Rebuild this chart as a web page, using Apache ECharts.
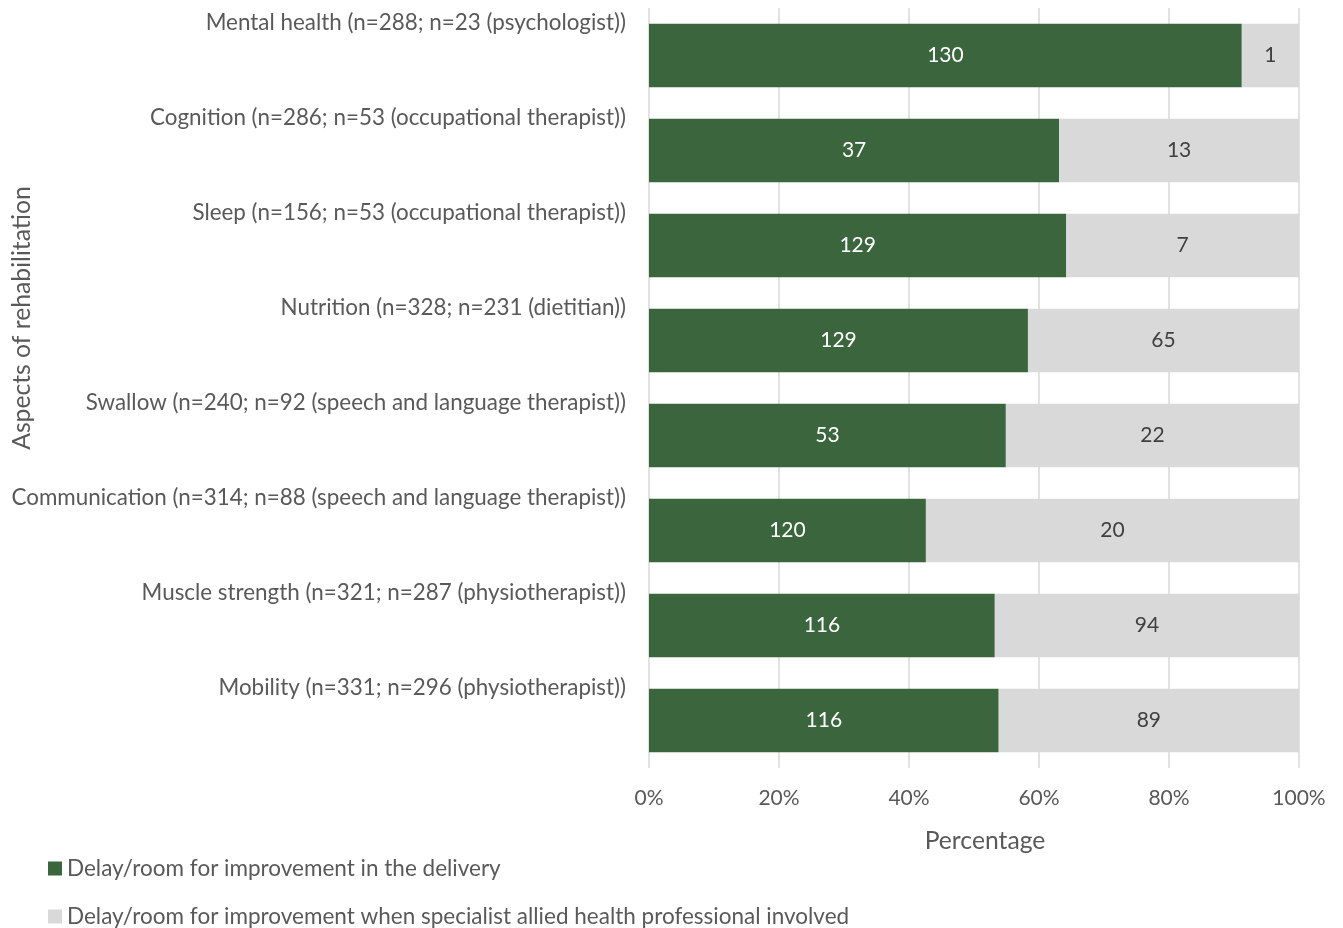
<!DOCTYPE html>
<html>
<head>
<meta charset="utf-8">
<script src="https://cdn.jsdelivr.net/npm/echarts@6/dist/echarts.min.js"></script>
<style>
html,body{margin:0;padding:0;background:#fff;}
#chart{width:1343px;height:928px;}
</style>
</head>
<body>
<div id="chart"></div>
<script>
const categories = [
  'Mental health (n=288; n=23 (psychologist))',
  'Cognition (n=286; n=53 (occupational therapist))',
  'Sleep (n=156; n=53 (occupational therapist))',
  'Nutrition (n=328; n=231 (dietitian))',
  'Swallow (n=240; n=92 (speech and language therapist))',
  'Communication (n=314; n=88 (speech and language therapist))',
  'Muscle strength (n=321; n=287 (physiotherapist))',
  'Mobility (n=331; n=296 (physiotherapist))'
];
const deliveryPct = [91.2, 63.1, 64.2, 58.3, 54.9, 42.6, 53.2, 53.8];
const specialistPct = [8.8, 36.9, 35.8, 41.7, 45.1, 57.4, 46.8, 46.2];
const deliveryCounts = [130, 37, 129, 129, 53, 120, 116, 116];
const specialistCounts = [1, 13, 7, 65, 22, 20, 94, 89];
const seriesNames = [
  'Delay/room for improvement in the delivery',
  'Delay/room for improvement when specialist allied health professional involved'
];
const xTicks = [0, 20, 40, 60, 80, 100];

const FONT = 'Lato';
const chart = echarts.init(document.getElementById('chart'));
const legendText = { fontSize: 22.5, color: '#595959', fontFamily: FONT };
chart.setOption({
  animation: false,
  textStyle: { fontFamily: FONT },
  grid: { left: 649, right: 44, top: 8, height: 760, containLabel: false, outerBoundsMode: 'none' },
  xAxis: {
    type: 'value',
    min: xTicks[0], max: xTicks[xTicks.length - 1], interval: 20,
    axisLine: { show: false },
    axisTick: { show: false },
    axisLabel: { formatter: '{value}%', fontSize: 21, color: '#595959', margin: 20, fontFamily: FONT },
    splitLine: { show: true, lineStyle: { color: '#d9d9d9', width: 1.5 } }
  },
  yAxis: {
    type: 'category',
    inverse: true,
    data: categories,
    axisLine: { show: false },
    axisTick: { show: false },
    axisLabel: {
      fontSize: 22.4, color: '#595959', margin: 23, fontFamily: FONT,
      verticalAlign: 'bottom', lineHeight: 66
    }
  },
  legend: [
    {
      orient: 'vertical', left: 48, top: 857, padding: 0,
      itemWidth: 14, itemHeight: 14, icon: 'rect',
      textStyle: legendText,
      data: [seriesNames[0]]
    },
    {
      orient: 'vertical', left: 48, top: 905, padding: 0,
      itemWidth: 14, itemHeight: 14, icon: 'rect',
      textStyle: legendText,
      data: [seriesNames[1]]
    }
  ],
  graphic: [
    {
      type: 'text', x: 985, y: 841,
      style: { text: 'Percentage', fontSize: 24.7, fill: '#595959', fontFamily: FONT, align: 'center', verticalAlign: 'middle' }
    },
    {
      type: 'text', x: 22, y: 318, rotation: Math.PI / 2,
      style: { text: 'Aspects of rehabilitation', fontSize: 24.7, fill: '#595959', fontFamily: FONT, align: 'center', verticalAlign: 'middle' }
    }
  ],
  series: [
    {
      name: seriesNames[0], type: 'bar', stack: 'total', barCategoryGap: '33%',
      itemStyle: { color: '#3b653d' },
      label: {
        show: true, position: 'inside', color: '#ffffff', fontSize: 21, fontFamily: FONT,
        formatter: p => String(deliveryCounts[p.dataIndex])
      },
      data: deliveryPct
    },
    {
      name: seriesNames[1], type: 'bar', stack: 'total', barCategoryGap: '33%',
      itemStyle: { color: '#d9d9d9' },
      label: {
        show: true, position: 'inside', color: '#404040', fontSize: 21, fontFamily: FONT,
        formatter: p => String(specialistCounts[p.dataIndex])
      },
      data: specialistPct
    }
  ]
});
</script>
</body>
</html>
